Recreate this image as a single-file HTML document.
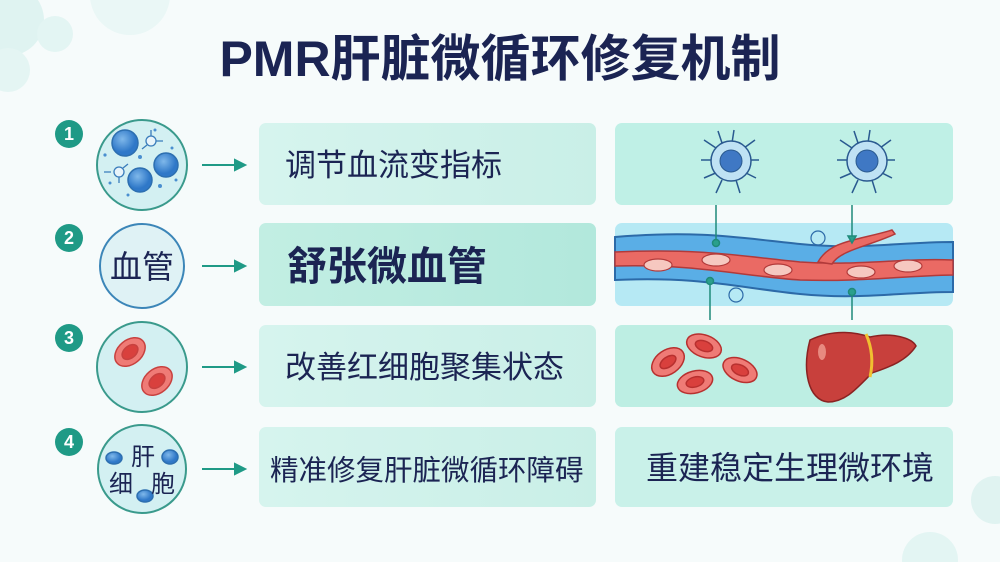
<!DOCTYPE html>
<html><head><meta charset="utf-8"><style>
html,body{margin:0;padding:0;background:#f5fafa;}
svg{display:block}
text{font-family:"Liberation Sans","Noto Sans CJK SC",sans-serif;}
</style></head><body>
<svg width="1000" height="562" viewBox="0 0 1000 562" xmlns="http://www.w3.org/2000/svg">
<defs>
<linearGradient id="bx" x1="0" x2="1"><stop offset="0" stop-color="#d6f4ee"/><stop offset="1" stop-color="#c9efe7"/></linearGradient>
<linearGradient id="bx2" x1="0" x2="1"><stop offset="0" stop-color="#c2eee3"/><stop offset="1" stop-color="#b2e8dc"/></linearGradient>
<radialGradient id="cb" cx="0.4" cy="0.35"><stop offset="0" stop-color="#7fb8ea"/><stop offset="1" stop-color="#2f78c8"/></radialGradient>
</defs>
<rect width="1000" height="562" fill="#f6fbfb"/>
<circle cx="8" cy="20" r="36" fill="#dff3f1"/>
<circle cx="55" cy="34" r="18" fill="#e3f5f3"/>
<circle cx="8" cy="70" r="22" fill="#e4f5f3"/>
<circle cx="130" cy="-5" r="40" fill="#eaf7f6"/>
<circle cx="995" cy="500" r="24" fill="#e0f3f1"/>
<circle cx="930" cy="560" r="28" fill="#e3f5f3"/>
<text x="500" y="76" text-anchor="middle" font-size="50" font-weight="bold" fill="#1b2453">PMR肝脏微循环修复机制</text>

<!-- badges -->
<g fill="#1f9a86"><circle cx="69" cy="134" r="14"/><circle cx="69" cy="238" r="14"/><circle cx="69" cy="338" r="14"/><circle cx="69" cy="442" r="14"/></g>
<g fill="#fff" font-size="18" font-weight="bold" text-anchor="middle"><text x="69" y="140">1</text><text x="69" y="244">2</text><text x="69" y="344">3</text><text x="69" y="448">4</text></g>

<!-- circles -->
<g stroke="#3a9a8c" stroke-width="2" fill="#d3f0f2">
<circle cx="142" cy="165" r="45"/><circle cx="142" cy="266" r="42" stroke="#3c86b8" fill="#dff2f5"/><circle cx="142" cy="367" r="45"/><circle cx="142" cy="469" r="44"/>
</g>
<g fill="url(#cb)" stroke="#2d6fb0" stroke-width="1.5">
<circle cx="125" cy="143" r="13"/><circle cx="166" cy="165" r="12"/><circle cx="140" cy="180" r="12"/>
<ellipse cx="114" cy="458" rx="8" ry="6"/><ellipse cx="170" cy="457" rx="8" ry="7"/><ellipse cx="145" cy="496" rx="8" ry="6"/>
</g>
<g stroke="#3a7dbb" stroke-width="1.3" fill="#e8f4fa"><circle cx="151" cy="141" r="5"/><circle cx="119" cy="172" r="5"/>
<path d="M151 136v-6M156 141h7M147 145l-5 4M111 172h-7M119 177v6M123 168l5-4" fill="none"/></g>
<g fill="#4a8fd0"><circle cx="105" cy="155" r="1.6"/><circle cx="155" cy="130" r="1.5"/><circle cx="172" cy="148" r="1.5"/><circle cx="140" cy="157" r="2"/><circle cx="128" cy="195" r="1.5"/><circle cx="160" cy="186" r="2"/><circle cx="176" cy="180" r="1.5"/><circle cx="110" cy="183" r="1.5"/></g>
<text x="142" y="278" text-anchor="middle" font-size="32" fill="#1b2453">血管</text>
<g stroke="#c8413f" stroke-width="1.5"><ellipse cx="130" cy="352" rx="17" ry="12" transform="rotate(-40 130 352)" fill="#ef7b76"/><ellipse cx="157" cy="381" rx="17" ry="12" transform="rotate(-40 157 381)" fill="#ef7b76"/>
<ellipse cx="130" cy="352" rx="9" ry="6" transform="rotate(-40 130 352)" fill="#d9403d"/><ellipse cx="157" cy="381" rx="9" ry="6" transform="rotate(-40 157 381)" fill="#d9403d"/></g>
<g font-size="24" fill="#1b2453" text-anchor="middle"><text x="143" y="465">肝</text><text x="121" y="492">细</text><text x="163" y="492">胞</text></g>

<!-- arrows -->
<g stroke="#1f9a86" stroke-width="2" fill="#1f9a86">
<line x1="202" y1="165" x2="236" y2="165"/><path d="M245 165l-10-5v10z"/>
<line x1="202" y1="266" x2="236" y2="266"/><path d="M245 266l-10-5v10z"/>
<line x1="202" y1="367" x2="236" y2="367"/><path d="M245 367l-10-5v10z"/>
<line x1="202" y1="469" x2="236" y2="469"/><path d="M245 469l-10-5v10z"/>
</g>

<!-- middle boxes -->
<rect x="259" y="123" width="337" height="82" rx="7" fill="url(#bx)"/>
<rect x="259" y="223" width="337" height="83" rx="7" fill="url(#bx2)"/>
<rect x="259" y="325" width="337" height="82" rx="7" fill="url(#bx)"/>
<rect x="259" y="427" width="337" height="80" rx="7" fill="url(#bx)"/>
<g fill="#1b2453" font-size="31"><text x="285" y="176">调节血流变指标</text>
<text x="287" y="280" font-size="40" font-weight="bold">舒张微血管</text>
<text x="285" y="378">改善红细胞聚集状态</text>
<text x="270" y="480" font-size="28.5">精准修复肝脏微循环障碍</text></g>

<!-- right panels -->
<rect x="615" y="123" width="338" height="82" rx="7" fill="#bff0e6"/>
<rect x="615" y="223" width="338" height="83" rx="7" fill="#b6e9f4"/>
<rect x="615" y="325" width="338" height="82" rx="7" fill="#bdeee3"/>
<rect x="615" y="427" width="338" height="80" rx="7" fill="#c9f1e9"/>
<text x="790" y="479" text-anchor="middle" font-size="32" fill="#1b2453">重建稳定生理微环境</text>

<!-- immune cells -->
<g stroke="#2a5a90" stroke-width="1.5" fill="none">
<path d="M716 148l-12-8M716 160l-15 0M718 172l-14 6M722 180l-6 13M736 180l4 13M744 172l12 6M746 160l13 0M744 148l11-8M732 143l2-13M722 143l-4-12"/>
<path d="M852 148l-12-8M852 160l-15 0M854 172l-14 6M858 180l-6 13M872 180l4 13M880 172l12 6M882 160l13 0M880 148l11-8M868 143l2-13M858 143l-4-12"/>
</g>
<g stroke="#2a5a90" stroke-width="1.5"><circle cx="731" cy="161" r="20" fill="#bfe2f4"/><circle cx="867" cy="161" r="20" fill="#bfe2f4"/></g>
<g fill="#3f78c4" stroke="#2a5a90"><circle cx="731" cy="161" r="11"/><circle cx="867" cy="161" r="11"/></g>
<!-- vessel -->
<path d="M615 237 C700 230 740 238 800 244 C860 250 900 242 953 242 L953 292 C900 292 860 300 800 294 C740 288 700 276 615 280Z" fill="#5aaee6" stroke="#2c6aa8" stroke-width="2"/>
<path d="M615 252 C700 248 740 256 800 262 C860 266 900 258 953 260 L953 275 C900 276 860 282 800 280 C740 276 700 264 615 266Z" fill="#ea6a64" stroke="#b23a3a" stroke-width="1.5"/>
<path d="M818 262 C830 240 860 240 892 230 L895 234 C870 246 840 250 832 264Z" fill="#ea6a64" stroke="#b23a3a" stroke-width="1.5"/>
<g fill="#f6c8c0" stroke="#b23a3a" stroke-width="1.2"><ellipse cx="658" cy="265" rx="14" ry="6"/><ellipse cx="716" cy="260" rx="14" ry="6"/><ellipse cx="778" cy="270" rx="14" ry="6"/><ellipse cx="861" cy="272" rx="14" ry="6"/><ellipse cx="908" cy="266" rx="14" ry="6"/></g>
<g fill="none" stroke="#2c6aa8" stroke-width="1.2"><circle cx="818" cy="238" r="7"/><circle cx="736" cy="295" r="7"/></g>
<g stroke="#1f8a7a" stroke-width="1.5" fill="#2aa08c"><line x1="716" y1="205" x2="716" y2="243"/><circle cx="716" cy="243" r="3.5"/>
<line x1="852" y1="205" x2="852" y2="238"/><path d="M852 243l-4-7h8z"/>
<line x1="710" y1="281" x2="710" y2="320"/><circle cx="710" cy="281" r="3.5"/>
<line x1="852" y1="292" x2="852" y2="320"/><circle cx="852" cy="292" r="3.5"/></g>
<!-- rbcs -->
<g stroke="#b8302f" stroke-width="1.5">
<g fill="#ef7b76"><ellipse cx="668" cy="362" rx="18" ry="12" transform="rotate(-35 668 362)"/><ellipse cx="704" cy="346" rx="18" ry="11" transform="rotate(20 704 346)"/><ellipse cx="695" cy="382" rx="18" ry="11" transform="rotate(-15 695 382)"/><ellipse cx="740" cy="370" rx="18" ry="11" transform="rotate(25 740 370)"/></g>
<g fill="#d9403d"><ellipse cx="668" cy="362" rx="9" ry="5" transform="rotate(-35 668 362)"/><ellipse cx="704" cy="346" rx="9" ry="5" transform="rotate(20 704 346)"/><ellipse cx="695" cy="382" rx="9" ry="5" transform="rotate(-15 695 382)"/><ellipse cx="740" cy="370" rx="9" ry="5" transform="rotate(25 740 370)"/></g>
</g>
<path d="M810 340 C835 328 858 333 870 337 C892 332 912 338 916 346 C906 362 886 368 872 373 C858 387 846 402 828 402 C808 400 802 370 810 340Z" fill="#c8403c" stroke="#8a2222" stroke-width="1.5"/>
<path d="M866 334 C873 350 873 364 870 377" stroke="#f0c030" stroke-width="3" fill="none"/>
<ellipse cx="822" cy="352" rx="4" ry="8" fill="#e88a80"/>
</svg>
</body></html>
